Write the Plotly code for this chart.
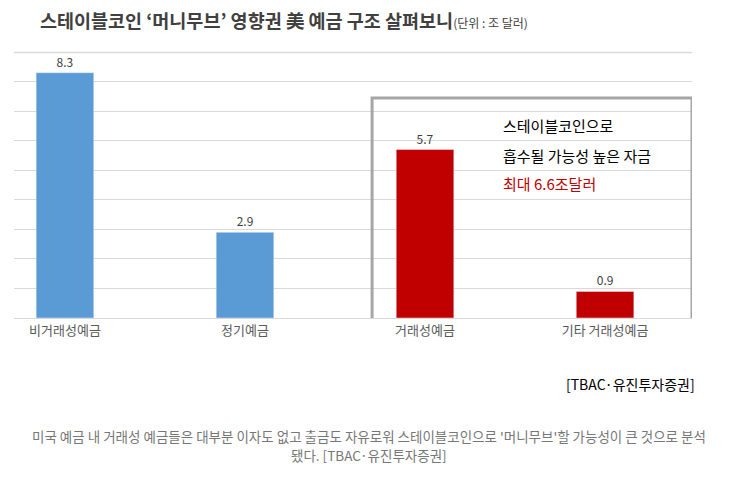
import plotly.graph_objects as go

categories = ["비거래성예금", "정기예금", "거래성예금", "기타 거래성예금"]
values = [8.3, 2.9, 5.7, 0.9]
colors = ["#5b9bd5", "#5b9bd5", "#c00000", "#c00000"]
value_labels = ["8.3", "2.9", "5.7", "0.9"]

FONT = "Noto Sans CJK KR"

fig = go.Figure(go.Bar(
    x=list(range(len(categories))), y=values, marker_color=colors, width=0.32,
    text=value_labels, textposition="outside", cliponaxis=False,
    textfont=dict(size=12, color="#404040"),
))

fig.update_layout(
    width=743, height=486, margin=dict(l=6, r=59, t=44, b=176),
    plot_bgcolor="white", paper_bgcolor="white", showlegend=False,
    font=dict(family=FONT, color="#404040"),
    xaxis=dict(range=[-0.283, 3.483], tickvals=list(range(4)), ticktext=categories,
               showgrid=False, showline=True, linecolor="#d9d9d9", ticks="",
               tickfont=dict(size=13, color="#595959")),
    yaxis=dict(range=[0, 9], dtick=1, showticklabels=False, gridcolor="#d9d9d9",
               zeroline=False),
)

# top gridline
fig.add_shape(type="line", xref="paper", yref="paper", x0=0, x1=1, y0=0.998, y1=0.998,
              line=dict(color="#d9d9d9", width=1.5), layer="below")

# highlight box around transactional deposits
fig.add_shape(type="rect", xref="x", yref="y", x0=1.706, x1=3.483, y0=-1.49, y1=7.44,
              line=dict(color="#a6a6a6", width=3))

fig.add_annotation(xref="paper", yref="paper", x=0.035, y=1.0, yshift=32, yanchor="middle",
                   xanchor="left", showarrow=False,
                   text="<b>스테이블코인 ‘머니무브’ 영향권 美 예금 구조 살펴보니</b>"
                        "<span style='font-size:12px'>(단위 : 조 달러)</span>",
                   font=dict(size=18.5, color="#404040"))

box_lines = [("스테이블코인으로", "#000000", 6.52), ("흡수될 가능성 높은 자금", "#000000", 5.5),
             ("최대 6.6조달러", "#c00000", 4.55)]
for txt, col, yy in box_lines:
    fig.add_annotation(x=2.42, y=yy, xref="x", yref="y", xanchor="left", showarrow=False,
                       text=txt, font=dict(size=15, color=col))

fig.add_annotation(xref="paper", yref="paper", x=1.0, xshift=5, y=0, yshift=-78, xanchor="right",
                   showarrow=False, text="[TBAC·유진투자증권]",
                   font=dict(size=14, color="#000000"))

caption_lines = ["미국 예금 내 거래성 예금들은 대부분 이자도 없고 출금도 자유로워 스테이블코인으로 '머니무브'할 가능성이 큰 것으로 분석",
                 "됐다. [TBAC·유진투자증권]"]
for i, line in enumerate(caption_lines):
    fig.add_annotation(xref="paper", x=0.524, yref="paper", y=0, yshift=-118 - 19 * i,
                       yanchor="middle", xanchor="center", showarrow=False,
                       text=line, font=dict(size=13.5, color="#777777"))

fig.write_html("out.html")
